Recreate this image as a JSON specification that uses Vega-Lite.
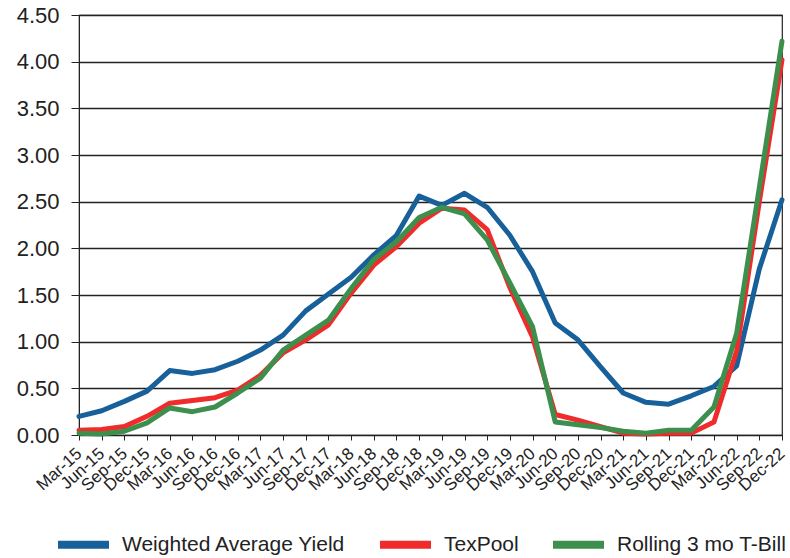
{
  "$schema": "https://vega.github.io/schema/vega-lite/v6.json",
  "autosize": "none",
  "padding": {"left": 79, "top": 15, "right": 8, "bottom": 123},
  "width": 703,
  "height": 420,
  "background": "white",
  "config": {
    "font": "Liberation Sans",
    "view": {"stroke": "#222", "strokeWidth": 1.2}
  },
  "data": {
    "values": [
      {"d": "Mar-15", "w": 0.20, "t": 0.05, "r": 0.02},
      {"d": "Jun-15", "w": 0.26, "t": 0.06, "r": 0.01},
      {"d": "Sep-15", "w": 0.36, "t": 0.09, "r": 0.04},
      {"d": "Dec-15", "w": 0.47, "t": 0.20, "r": 0.13},
      {"d": "Mar-16", "w": 0.69, "t": 0.34, "r": 0.29},
      {"d": "Jun-16", "w": 0.66, "t": 0.37, "r": 0.25},
      {"d": "Sep-16", "w": 0.70, "t": 0.40, "r": 0.30},
      {"d": "Dec-16", "w": 0.79, "t": 0.48, "r": 0.45},
      {"d": "Mar-17", "w": 0.91, "t": 0.64, "r": 0.61},
      {"d": "Jun-17", "w": 1.07, "t": 0.88, "r": 0.91},
      {"d": "Sep-17", "w": 1.33, "t": 1.02, "r": 1.07},
      {"d": "Dec-17", "w": 1.51, "t": 1.18, "r": 1.23},
      {"d": "Mar-18", "w": 1.69, "t": 1.52, "r": 1.57},
      {"d": "Jun-18", "w": 1.93, "t": 1.82, "r": 1.88},
      {"d": "Sep-18", "w": 2.14, "t": 2.02, "r": 2.07},
      {"d": "Dec-18", "w": 2.56, "t": 2.27, "r": 2.33},
      {"d": "Mar-19", "w": 2.46, "t": 2.43, "r": 2.44},
      {"d": "Jun-19", "w": 2.59, "t": 2.41, "r": 2.37},
      {"d": "Sep-19", "w": 2.44, "t": 2.20, "r": 2.09},
      {"d": "Dec-19", "w": 2.14, "t": 1.58, "r": 1.63},
      {"d": "Mar-20", "w": 1.75, "t": 1.05, "r": 1.16},
      {"d": "Jun-20", "w": 1.20, "t": 0.22, "r": 0.14},
      {"d": "Sep-20", "w": 1.02, "t": 0.16, "r": 0.11},
      {"d": "Dec-20", "w": 0.73, "t": 0.09, "r": 0.08},
      {"d": "Mar-21", "w": 0.45, "t": 0.02, "r": 0.04},
      {"d": "Jun-21", "w": 0.35, "t": 0.01, "r": 0.02},
      {"d": "Sep-21", "w": 0.33, "t": 0.02, "r": 0.05},
      {"d": "Dec-21", "w": 0.42, "t": 0.02, "r": 0.05},
      {"d": "Mar-22", "w": 0.52, "t": 0.14, "r": 0.30},
      {"d": "Jun-22", "w": 0.74, "t": 0.90, "r": 1.09},
      {"d": "Sep-22", "w": 1.78, "t": 2.50, "r": 2.65},
      {"d": "Dec-22", "w": 2.52, "t": 4.02, "r": 4.22}
    ]
  },
  "transform": [
    {"fold": ["w", "t", "r"], "as": ["k", "v"]}
  ],
  "mark": {"type": "line", "strokeWidth": 5, "strokeJoin": "round", "strokeCap": "round"},
  "encoding": {
    "x": {
      "field": "d",
      "type": "ordinal",
      "sort": null,
      "scale": {"type": "point", "padding": 0},
      "axis": {
        "title": null,
        "labelAngle": -42,
        "labelAlign": "right",
        "labelBaseline": "middle",
        "labelFontSize": 17,
        "labelColor": "#222",
        "domain": true,
        "domainColor": "#222",
        "tickColor": "#222",
        "tickSize": 5,
        "labelPadding": 11,
        "grid": false
      }
    },
    "y": {
      "field": "v",
      "type": "quantitative",
      "scale": {"domain": [0, 4.5], "nice": false},
      "axis": {
        "title": null,
        "values": [0, 0.5, 1, 1.5, 2, 2.5, 3, 3.5, 4, 4.5],
        "format": ".2f",
        "labelFontSize": 22,
        "labelColor": "#222",
        "labelPadding": 12,
        "tickSize": 8,
        "tickColor": "#222",
        "domainColor": "#222",
        "grid": true,
        "gridColor": "#222",
        "gridWidth": 1.3
      }
    },
    "color": {
      "field": "k",
      "type": "nominal",
      "scale": {
        "domain": ["w", "t", "r"],
        "range": ["#17609a", "#ef2b2b", "#3c8f4c"]
      },
      "legend": {
        "title": null,
        "orient": "none",
        "direction": "horizontal",
        "legendX": -25,
        "legendY": 500,
        "labelExpr": "datum.value == 'w' ? 'Weighted Average Yield' : datum.value == 't' ? 'TexPool' : 'Rolling 3 mo T-Bill'",
        "labelFontSize": 21,
        "labelColor": "#222",
        "labelOffset": 9,
        "symbolType": "stroke",
        "symbolSize": 2600,
        "symbolStrokeWidth": 8,
        "columnPadding": 18,
        "labelLimit": 400
      }
    }
  }
}
